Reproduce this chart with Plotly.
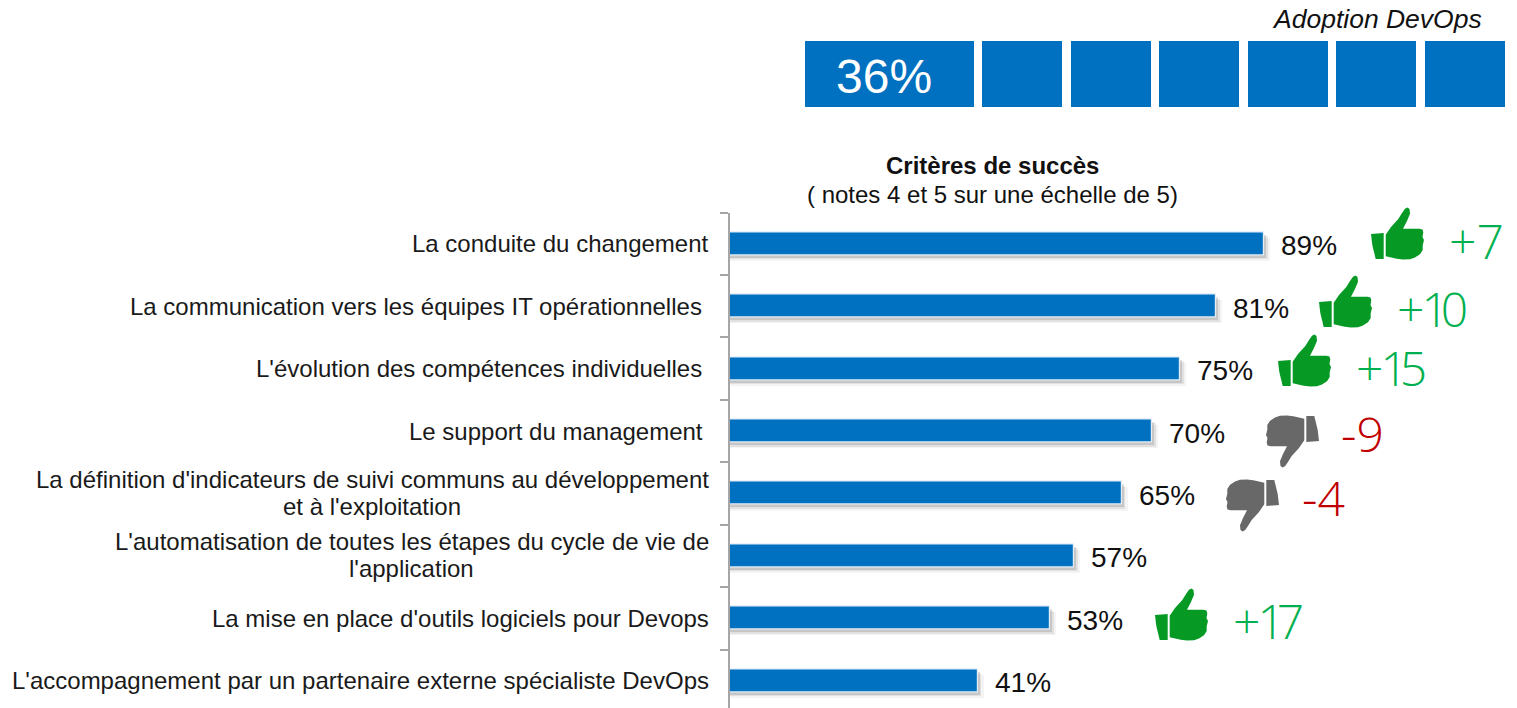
import plotly.graph_objects as go

W, H = 1517, 708
categories = [
    "La conduite du changement",
    "La communication vers les équipes IT opérationnelles\u00a0",
    "L'évolution des compétences individuelles\u00a0",
    "Le support du management\u00a0",
    "La définition d'indicateurs de suivi communs au développement<br>et à l'exploitation",
    "L'automatisation de toutes les étapes du cycle de vie de<br>l'application",
    "La mise en place d'outils logiciels pour Devops",
    "L'accompagnement par un partenaire externe spécialiste DevOps",
]
values = [89, 81, 75, 70.4, 65.3, 57.4, 53.4, 41.3]
value_labels = ["89%", "81%", "75%", "70%", "65%", "57%", "53%", "41%"]
deltas = ["+7", "+10", "+15", "-9", "-4", None, "+17", None]
adoption_value = "36%"
adoption_title = "Adoption DevOps"
title_main = "Critères de succès"
title_sub = "( notes 4 et 5 sur une échelle de 5)"

BLUE = "#0070c0"
GREEN_ICON = "#069a25"
GREY_ICON = "#686868"
GREEN_TXT = "#00b050"
RED_TXT = "#c00000"
FONT = "Liberation Sans"
LIGHT = "Open Sans"

# pixel layout of the decorations (not data)
icon_boxes = [(1371, 207), (1319, 275), (1278, 334), (1266, 415), (1226, 479), None, (1155, 588), None]
delta_pos = [(1449, 240), (1397, 308), (1356, 367), (1341, 433), (1302, 497), None, (1233, 620), None]
blocks = [(805, 974), (982, 1062), (1071, 1151), (1159, 1239), (1248, 1328), (1336, 1416), (1425, 1505)]
two_line_centre = {4: 372, 5: 412}
two_line_shift = {4: 0, 5: 1}

CUFF = [(0, 27), (12.7, 26), (12.7, 52), (4.7, 52), (1.3, 38)]
HAND = [(14.7, 27.7), (20, 20), (27.3, 12), (31, 6), (34, 1.7), (36.5, 0.6), (38.5, 2), (39, 6.7), (36, 14),
        (32, 21.7), (48.3, 21.7), (51.5, 22.5), (52.3, 25.5), (51.5, 30), (53, 33), (51.7, 38.3), (51.7, 43),
        (49, 47.3), (44, 50.5), (39, 52.3), (32, 52.5), (25.7, 51.7), (14.7, 49.3)]


def fx(px):
    return px / W


def fy(py):
    return 1 - py / H


def icon_path(points, left, top, down):
    out = []
    for i, (a, b) in enumerate(points):
        if down:
            a, b = 53 - a, 53 - b
        out.append(f"{'M' if i == 0 else 'L'}{fx(left + a):.5f},{fy(top + b):.5f}")
    return " ".join(out) + " Z"


def delta_markup(d):
    if "1" not in d:
        return d
    sign, one, rest = d[0], d[1], d[2:]
    return (f'<span style="letter-spacing:-3px">{sign}</span>'
            f'<span style="letter-spacing:-8px">{one}</span>{rest}')


fig = go.Figure()
bar_w = 0.37
for dx, dy, alpha in [(1.0, 5 / 62, 0.06), (0.6, 3.5 / 62, 0.10), (0.3, 2 / 62, 0.16)]:
    fig.add_trace(go.Bar(
        y=categories, x=[v + dx for v in values], orientation="h",
        width=bar_w, offset=-bar_w / 2 + dy,
        marker=dict(color=f"rgba(60,60,60,{alpha})", line=dict(width=0)),
        hoverinfo="skip", showlegend=False,
    ))
fig.add_trace(go.Bar(
    y=categories, x=values, orientation="h", width=bar_w, offset=-bar_w / 2,
    marker=dict(color=BLUE, line=dict(color="#e3edf7", width=1.2)),
    showlegend=False,
    hovertemplate="%{y}: %{x}%<extra></extra>",
))

shapes = []
for x0, x1 in blocks:
    shapes.append(dict(type="rect", xref="paper", yref="paper", x0=fx(x0), x1=fx(x1), y0=fy(107), y1=fy(41),
                       fillcolor=BLUE, line=dict(width=0)))
for box, d in zip(icon_boxes, deltas):
    if box is None:
        continue
    down = d.startswith("-")
    col = GREY_ICON if down else GREEN_ICON
    for pts in (CUFF, HAND):
        shapes.append(dict(type="path", xref="paper", yref="paper", path=icon_path(pts, box[0], box[1], down),
                           fillcolor=col, line=dict(width=0)))

ann = []
LF = dict(family=FONT, size=24, color="#1a1a1a")
for i, (c, v, t) in enumerate(zip(categories, values, value_labels)):
    lines = c.split("<br>")
    if len(lines) == 1:
        ann.append(dict(x=0, y=c, xref="x", yref="y", xanchor="right", yanchor="middle", xshift=-19, yshift=0,
                        text=c, showarrow=False, font=LF))
    else:
        for ln, shift in zip(lines, (13.5, -13.5)):
            ann.append(dict(x=fx(two_line_centre[i]), y=c, xref="paper", yref="y", xanchor="center", yanchor="middle",
                            yshift=shift + two_line_shift[i], text=ln, showarrow=False, font=LF))
    ann.append(dict(x=v, y=c, xref="x", yref="y", xanchor="left", yanchor="middle", xshift=15, yshift=-2,
                    text=t, showarrow=False, font=dict(family=FONT, size=28, color="#111111")))
for p, d in zip(delta_pos, deltas):
    if p is None:
        continue
    ann.append(dict(x=fx(p[0]), y=fy(p[1]), xref="paper", yref="paper", xanchor="left", yanchor="middle",
                    xshift=-2, text=delta_markup(d), showarrow=False,
                    font=dict(family=LIGHT, size=48, weight=300, color=RED_TXT if d.startswith("-") else GREEN_TXT)))


def label(px, py, text, size, color="#111111", anchor="center", **kw):
    ann.append(dict(x=fx(px), y=fy(py), xref="paper", yref="paper", xanchor=anchor, yanchor="middle", text=text,
                    showarrow=False, font=dict(family=FONT, size=size, color=color, **kw)))


label(884, 76, adoption_value, 48, "#ffffff")
label(1484, 19, adoption_title, 26.5, anchor="right", style="italic")
label(992, 165, f"<b>{title_main}</b>", 24)
label(992, 195, title_sub, 24)

fig.update_layout(
    width=W, height=H, margin=dict(l=0, r=0, t=0, b=0), autosize=False,
    paper_bgcolor="white", plot_bgcolor="white", barmode="overlay", bargap=0,
    xaxis=dict(domain=[730 / W, 1], range=[0, 787 / 6], visible=False, fixedrange=True),
    yaxis=dict(domain=[0, 495.5 / H], type="category", categoryorder="array", categoryarray=categories,
               range=[7.437, -0.5], showticklabels=False, showgrid=False, zeroline=False, showline=True,
               linecolor="#a6a6a6", linewidth=2, ticks="outside", tickson="boundaries", ticklen=8,
               tickwidth=2, tickcolor="#a6a6a6", fixedrange=True),
    shapes=shapes, annotations=ann, font=dict(family=FONT),
)
fig.write_html("out.html", config=dict(displayModeBar=False),
               post_script="document.body.style.margin='0';document.body.style.overflow='hidden';")
